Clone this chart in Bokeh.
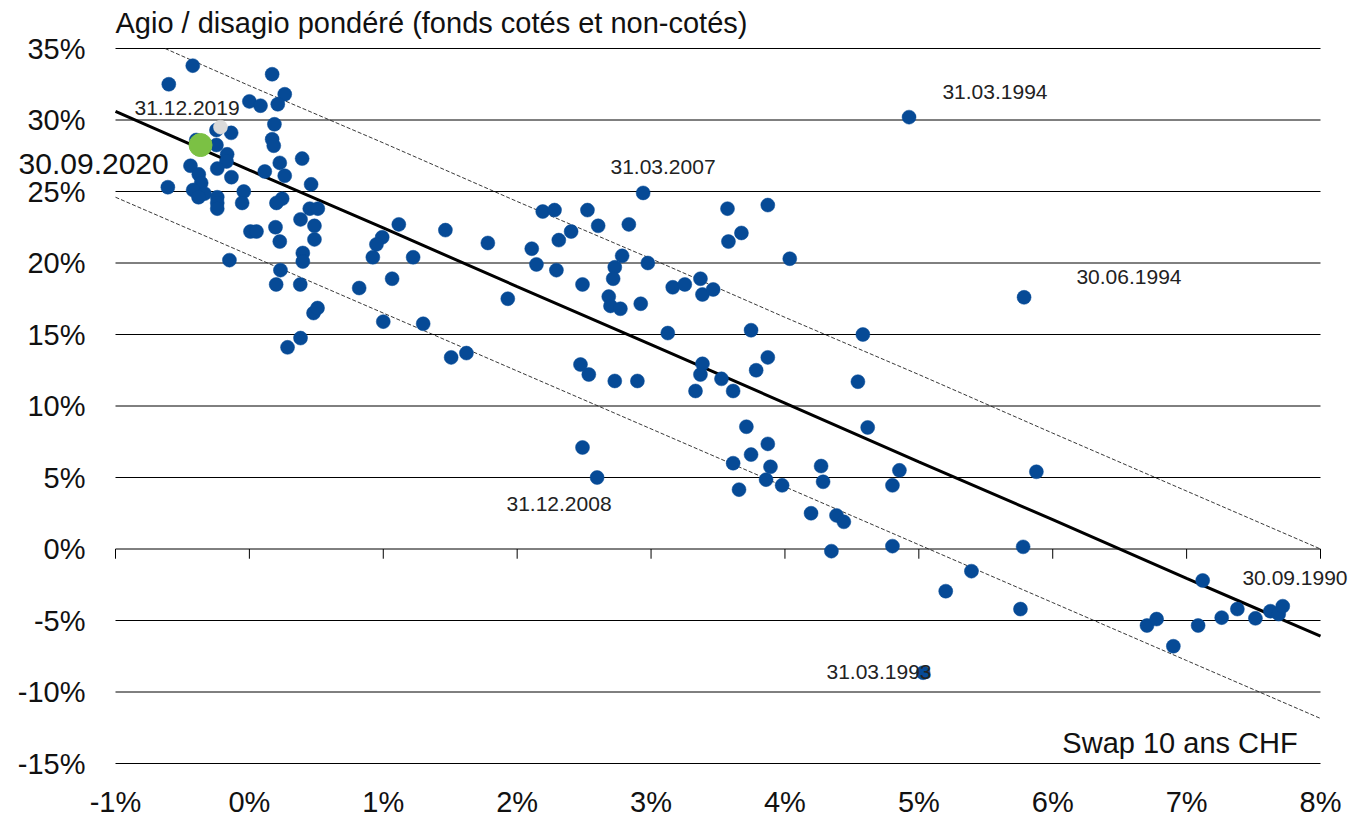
from bokeh.plotting import figure
from bokeh.models import Range1d
from bokeh.core.properties import value
from bokeh.embed import file_html
from bokeh.resources import INLINE

# ---- data ----
swap_x = [
    -0.423, -0.602, 0.170, 0.264, 0.000, 0.083, 0.212, 0.187, -0.246, -0.136,
    -0.397, -0.246, 0.170, 0.182, -0.166, 0.394, -0.171, -0.440, -0.240, 0.227,
    0.115, 0.264, -0.134, -0.378, -0.360, 0.461, -0.609, -0.420, -0.335, -0.380,
    -0.042, -0.240, -0.240, -0.240, -0.054, 0.245, 0.202, 0.451, 0.511, 0.382,
    0.486, 0.486, 0.195, 0.227, 0.008, 0.053, 1.116, 0.992, 0.949, 1.464,
    0.922, 1.223, 0.399, 0.399, -0.149, 0.232, 1.066,
    0.200, 0.380, 0.820, 0.479, 0.509, 0.285, 0.382, 1.000, 1.298, 1.507,
    1.621, 1.930, 1.781,
    2.941, 2.191, 2.279, 2.525, 2.605, 2.834, 2.403, 2.311, 2.109, 2.144,
    2.293, 2.784, 2.729, 2.717, 2.976, 2.488, 2.684, 2.697, 2.771, 2.923,
    3.162, 3.252, 3.369, 3.384, 3.464, 3.125, 3.571, 3.872, 3.578, 3.675,
    4.036, 3.747, 3.872, 3.785, 4.582, 4.545, 3.384, 3.369, 3.526, 3.332,
    3.613, 2.473, 2.535, 2.729, 2.898, 3.712, 3.872, 2.488, 4.618,
    3.747, 3.613, 3.892, 3.859, 3.979, 3.657, 4.270, 4.285, 4.195, 4.385,
    4.440, 4.347, 4.803, 4.803, 4.855, 2.597,
    4.927, 5.786, 5.878, 5.779, 5.393, 5.201, 5.759, 5.032, 7.120, 6.704,
    6.776, 6.901, 7.086, 7.262, 7.379, 7.514, 7.626, 7.688, 7.718,
]
agio_y = [
    33.8, 32.5, 33.2, 31.8, 31.3, 31.0, 31.1, 29.7, 29.3, 29.1,
    28.6, 28.25, 28.65, 28.2, 27.6, 27.3, 27.1, 26.8, 26.6, 27.0,
    26.4, 26.1, 26.0, 26.2, 25.6, 25.5, 25.3, 25.1, 24.85, 24.6,
    25.0, 24.6, 24.2, 23.8, 24.2, 24.5, 24.2, 23.8, 23.8, 23.05,
    22.6, 21.65, 22.5, 21.5, 22.2, 22.2, 22.7, 21.8, 21.3, 22.3,
    20.4, 20.4, 20.7, 20.1, 20.2, 19.5, 18.9,
    18.5, 18.5, 18.25, 16.5, 16.85, 14.1, 14.75, 15.9, 15.75, 13.4,
    13.7, 17.5, 21.4,
    24.9, 23.6, 23.7, 23.7, 22.6, 22.7, 22.2, 21.6, 21.0, 19.9,
    19.5, 20.5, 19.7, 18.9, 20.0, 18.5, 17.65, 17.0, 16.8, 17.15,
    18.3, 18.5, 18.9, 17.8, 18.15, 15.1, 23.8, 24.05, 21.5, 22.1,
    20.3, 15.3, 13.4, 12.5, 15.0, 11.7, 12.95, 12.2, 11.9, 11.05,
    11.05, 12.9, 12.2, 11.75, 11.75, 8.55, 7.35, 7.1, 8.5,
    6.6, 6.0, 5.75, 4.85, 4.45, 4.15, 5.8, 4.7, 2.5, 2.35,
    1.9, -0.15, 0.2, 4.45, 5.5, 5.0,
    30.2, 17.6, 5.4, 0.15, -1.55, -2.95, -4.2, -8.65, -2.2, -5.35,
    -4.9, -6.8, -5.35, -4.8, -4.2, -4.85, -4.35, -4.55, -4.0,
]

prev_x = [-0.216]   # 31.12.2019
prev_y = [29.5]
last_x = [-0.365]   # 30.09.2020
last_y = [28.25]

fit_x = [-1, 0, 1, 2, 3, 4, 5, 6, 7, 8]
fit_y = [30.6, 26.5, 22.45, 18.35, 14.3, 10.2, 6.1, 2.05, -2.05, -6.1]
upper_x = [-0.63, 0, 1, 2, 3, 4, 5, 6, 7, 8]
upper_y = [35.0, 32.4, 28.4, 24.3, 20.3, 16.2, 12.2, 8.1, 4.05, 0.0]
lower_x = [-1, 0, 1, 2, 3, 4, 5, 6, 7, 8]
lower_y = [24.6, 20.55, 16.5, 12.45, 8.4, 4.35, 0.3, -3.75, -7.8, -11.85]

x_ticks = [-1, 0, 1, 2, 3, 4, 5, 6, 7, 8]
x_tick_labels = ["-1%", "0%", "1%", "2%", "3%", "4%", "5%", "6%", "7%", "8%"]
y_ticks = [-15, -10, -5, 0, 5, 10, 15, 20, 25, 30, 35]
y_tick_labels = ["-15%", "-10%", "-5%", "0%", "5%", "10%", "15%", "20%", "25%", "30%", "35%"]

title_text = "Agio / disagio pondéré (fonds cotés et non-cotés)"
x_title = "Swap 10 ans CHF"
date_labels = ["31.12.2019", "31.03.2007", "31.03.1994", "30.06.1994",
               "31.12.2008", "31.03.1993", "30.09.1990"]
date_x = [-0.858, 2.697, 5.176, 6.177, 1.92, 4.31, 7.417]
date_y = [30.84, 26.71, 31.96, 19.02, 3.15, -8.6, -2.03]

FONT = "Liberation Sans"
TXT = "#111111"

W, H = 1350, 818
# plot area: x from -1% to 8% spans pixels 115..1320, y 35%..-15% spans 48..763
xmin, xmax = x_ticks[0], x_ticks[-1]
ymin, ymax = y_ticks[0], y_ticks[-1]
pxx = (1320 - 115) / (xmax - xmin)
pxy = (763 - 48) / (ymax - ymin)
x_range = Range1d(xmin - 115 / pxx, xmax + (W - 1320) / pxx)
y_range = Range1d(ymin - (H - 763) / pxy, ymax + 48 / pxy)

p = figure(width=W, height=H, x_range=x_range, y_range=y_range,
           output_backend="svg", toolbar_location=None,
           x_axis_location=None, y_axis_location=None,
           min_border=0, border_fill_color="white")
p.outline_line_color = None
p.grid.visible = False

n_y = len(y_ticks)
n_x = len(x_ticks)

# horizontal grid lines at every y tick
p.segment(x0=[xmin] * n_y, y0=y_ticks, x1=[xmax] * n_y, y1=y_ticks,
          line_color="black", line_width=1)
# tick marks hanging from the 0% line
p.segment(x0=x_ticks, y0=[0] * n_x, x1=x_ticks, y1=[-0.68] * n_x,
          line_color="black", line_width=1)

# band and fit
p.line(upper_x, upper_y, line_color="#222222", line_width=0.9, line_dash="4 2")
p.line(lower_x, lower_y, line_color="#222222", line_width=0.9, line_dash="4 2")
p.line(fit_x, fit_y, line_color="black", line_width=3)

# points
p.scatter(swap_x, agio_y, size=14, fill_color="#064A96", line_color="#064A96", line_width=0.5)
p.scatter(prev_x, prev_y, size=14, fill_color="#DADADA", line_color="#DADADA", line_width=0.5)
p.scatter(last_x, last_y, size=23, fill_color="#7BC144", line_color="#7BC144")

# tick labels
p.text(x=[xmin] * n_y, y=y_ticks, text=y_tick_labels, x_offset=-30,
       text_font=value(FONT), text_font_size="29px", text_color=TXT,
       text_align="right", text_baseline="middle")
p.text(x=x_ticks, y=[ymin] * n_x, text=x_tick_labels, y_offset=38,
       text_font=value(FONT), text_font_size="29px", text_color=TXT,
       text_align="center", text_baseline="middle")

# titles
p.text(x=[xmin], y=[36.78], text=[title_text], text_font=value(FONT), text_font_size="29px",
       text_color=TXT, text_align="left", text_baseline="middle")
p.text(x=[-1.724], y=[26.92], text=["30.09.2020"], text_font=value(FONT), text_font_size="30px",
       text_color=TXT, text_align="left", text_baseline="middle")
p.text(x=[6.072], y=[-13.57], text=[x_title], text_font=value(FONT), text_font_size="29px",
       text_color=TXT, text_align="left", text_baseline="middle")
p.text(x=date_x, y=date_y, text=date_labels, text_font=value(FONT), text_font_size="21px",
       text_color="#222222", text_align="left", text_baseline="middle")

open("out.html", "w").write(file_html(p, INLINE))
